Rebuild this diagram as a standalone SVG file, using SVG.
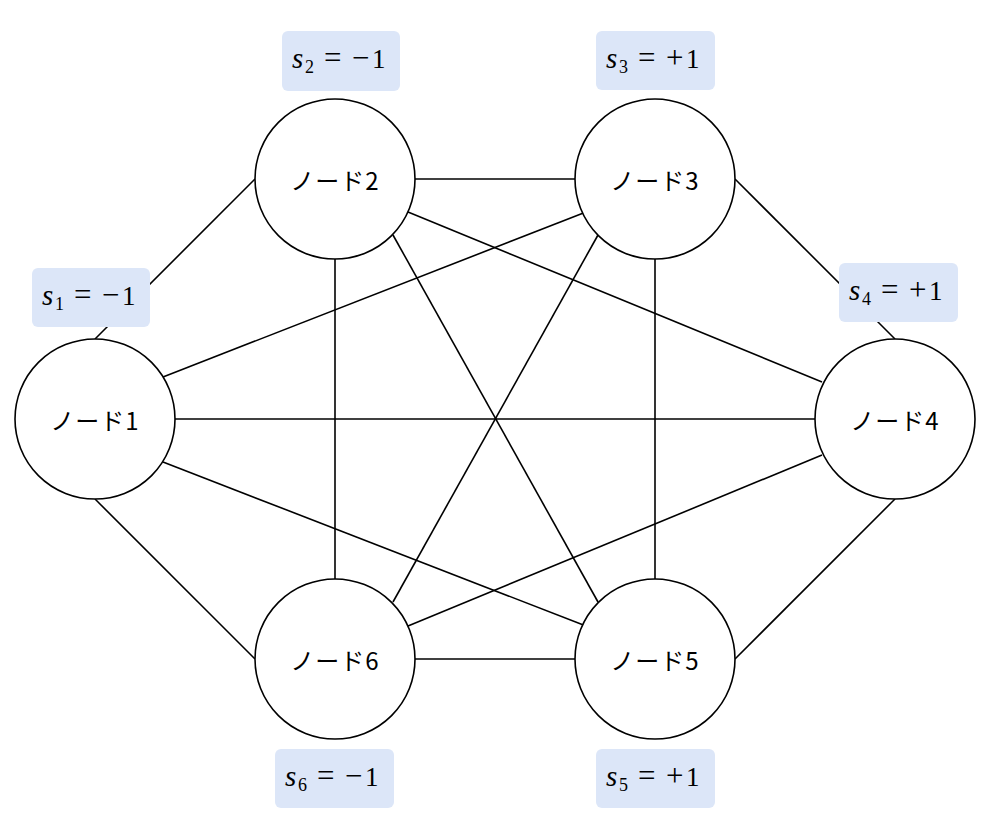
<svg xmlns="http://www.w3.org/2000/svg" width="992" height="826" viewBox="0 0 992 826">
<style>
.edge{stroke:#000;stroke-width:1.6;fill:none}
.node circle{fill:#fff;stroke:#000;stroke-width:1.6}
.node text{font-family:"Noto Sans CJK JP","Noto Sans",sans-serif;font-size:24px;letter-spacing:1px;fill:#000;text-anchor:middle;dominant-baseline:central}
.lbl rect{fill:#dce6f8}
.lbl text{font-family:"Liberation Serif","DejaVu Serif",serif;font-size:27px;fill:#000}
.lbl .v{font-style:italic;font-size:29px}
.lbl .sub{font-size:18px}
.lbl .op{font-size:31px}
</style>
<rect width="992" height="826" fill="#fff"/>
<g id="connectors">
<line class="edge" x1="95" y1="339" x2="255" y2="179"/>
<line class="edge" x1="163" y1="377" x2="586" y2="212"/>
<line class="edge" x1="175" y1="419" x2="815" y2="419"/>
<line class="edge" x1="163" y1="462" x2="586" y2="626"/>
<line class="edge" x1="95" y1="499" x2="255" y2="659"/>
<line class="edge" x1="415" y1="179" x2="575" y2="179"/>
<line class="edge" x1="408" y1="212" x2="822" y2="382"/>
<line class="edge" x1="393" y1="235" x2="598" y2="602"/>
<line class="edge" x1="335" y1="259" x2="335" y2="579"/>
<line class="edge" x1="735" y1="179" x2="895" y2="339"/>
<line class="edge" x1="655" y1="259" x2="655" y2="579"/>
<line class="edge" x1="598" y1="235" x2="393" y2="602"/>
<line class="edge" x1="895" y1="499" x2="735" y2="659"/>
<line class="edge" x1="822" y1="455" x2="408" y2="626"/>
<line class="edge" x1="415" y1="659" x2="575" y2="659"/>
</g>
<g id="node1" class="node"><circle cx="95" cy="419" r="80"/><text x="95" y="419">ノード1</text></g>
<g id="node2" class="node"><circle cx="335" cy="179" r="80"/><text x="335" y="179">ノード2</text></g>
<g id="node3" class="node"><circle cx="655" cy="179" r="80"/><text x="655" y="179">ノード3</text></g>
<g id="node4" class="node"><circle cx="895" cy="419" r="80"/><text x="895" y="419">ノード4</text></g>
<g id="node5" class="node"><circle cx="655" cy="659" r="80"/><text x="655" y="659">ノード5</text></g>
<g id="node6" class="node"><circle cx="335" cy="659" r="80"/><text x="335" y="659">ノード6</text></g>
<g id="label1" class="lbl"><rect x="32" y="268" width="118" height="59" rx="6"/><text y="305"><tspan class="v" x="42">s</tspan><tspan class="sub" x="55" y="310">1</tspan><tspan class="op" x="74" y="305">=</tspan><tspan class="op" x="102">−</tspan><tspan x="122">1</tspan></text></g>
<g id="label2" class="lbl"><rect x="282" y="31" width="118" height="60" rx="6"/><text y="68"><tspan class="v" x="292">s</tspan><tspan class="sub" x="305" y="73">2</tspan><tspan class="op" x="324" y="68">=</tspan><tspan class="op" x="352">−</tspan><tspan x="372">1</tspan></text></g>
<g id="label3" class="lbl"><rect x="596" y="31" width="119" height="59" rx="6"/><text y="68"><tspan class="v" x="606">s</tspan><tspan class="sub" x="619" y="73">3</tspan><tspan class="op" x="638" y="68">=</tspan><tspan class="op" x="666">+</tspan><tspan x="686">1</tspan></text></g>
<g id="label4" class="lbl"><rect x="839" y="263" width="119" height="59" rx="6"/><text y="300"><tspan class="v" x="849">s</tspan><tspan class="sub" x="862" y="305">4</tspan><tspan class="op" x="881" y="300">=</tspan><tspan class="op" x="909">+</tspan><tspan x="929">1</tspan></text></g>
<g id="label5" class="lbl"><rect x="596" y="749" width="119" height="59" rx="6"/><text y="786"><tspan class="v" x="606">s</tspan><tspan class="sub" x="619" y="791">5</tspan><tspan class="op" x="638" y="786">=</tspan><tspan class="op" x="666">+</tspan><tspan x="686">1</tspan></text></g>
<g id="label6" class="lbl"><rect x="275" y="749" width="119" height="59" rx="6"/><text y="786"><tspan class="v" x="285">s</tspan><tspan class="sub" x="298" y="791">6</tspan><tspan class="op" x="317" y="786">=</tspan><tspan class="op" x="345">−</tspan><tspan x="365">1</tspan></text></g>
</svg>
